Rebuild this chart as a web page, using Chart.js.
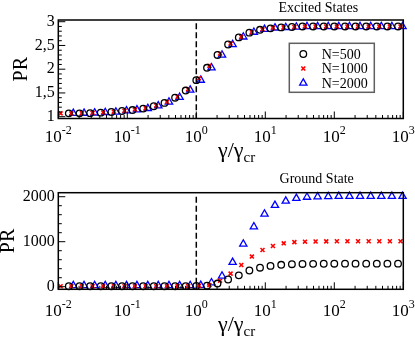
<!DOCTYPE html>
<html>
<head>
<meta charset="utf-8">
<script src="https://cdn.jsdelivr.net/npm/chart.js@4.4.1/dist/chart.umd.min.js"></script>
<style>
    html, body { margin: 0; padding: 0; background: #fff; }
    #wrap { position: relative; width: 415px; height: 343px; }
    #wrap canvas { position: absolute; left: 0; }
</style>
</head>
<body>
<div id="wrap">
    <canvas id="excitedChart" width="415" height="170" style="top:0"></canvas>
    <canvas id="groundChart" width="415" height="173" style="top:170px"></canvas>
</div>
<script>
// eje x (gamma / gamma_cr), escala log
const xDecades = [0.01, 0.1, 1, 10, 100, 1000];
const xDecadeExp = ['-2', '-1', '0', '1', '2', '3'];
const yTicksExcited = [1, 1.5, 2, 2.5, 3];
const yTicksGround = [0, 1000, 2000];
const seriesLabels = ['N=500', 'N=1000', 'N=2000'];

// posiciones en x de cada serie
const gammaN500 = [0.0142, 0.0203, 0.0289, 0.0412, 0.0588, 0.0838, 0.119, 0.170, 0.242, 0.346, 0.493, 0.702,
    1.0, 1.43, 2.03, 2.89, 4.13, 5.88, 8.38, 11.9, 17.0, 24.3, 34.6, 49.3, 70.3, 100, 143, 203, 290, 413, 588, 839];
const gammaN1000 = [0.0108, 0.0155, 0.0220, 0.0314, 0.0448, 0.0639, 0.0911, 0.129, 0.185, 0.263, 0.376, 0.536, 0.763,
    1.09, 1.55, 2.21, 3.14, 4.49, 6.39, 9.11, 12.9, 18.5, 26.4, 37.6, 53.6, 76.4, 109, 155, 221, 315, 449, 639, 912];
const gammaN2000 = [0.0165, 0.0236, 0.0336, 0.0479, 0.0683, 0.0974, 0.138, 0.198, 0.281, 0.402, 0.573, 0.816,
    1.16, 1.66, 2.36, 3.36, 4.80, 6.83, 9.74, 13.8, 19.8, 28.2, 40.2, 57.3, 81.7, 116, 166, 236, 337, 480, 683, 975];

// Excited States
const excitedN500 = [1.07, 1.07, 1.075, 1.085, 1.10, 1.12, 1.14, 1.17, 1.22, 1.29, 1.40, 1.55,
    1.77, 2.03, 2.30, 2.52, 2.67, 2.77, 2.83, 2.86, 2.88, 2.89, 2.90, 2.90, 2.90, 2.90, 2.90, 2.90, 2.90, 2.90, 2.90, 2.90];
const excitedN1000 = [1.07, 1.07, 1.075, 1.08, 1.09, 1.105, 1.125, 1.15, 1.18, 1.235, 1.31, 1.42, 1.58,
    1.81, 2.07, 2.33, 2.54, 2.68, 2.78, 2.84, 2.87, 2.88, 2.89, 2.90, 2.90, 2.90, 2.90, 2.90, 2.90, 2.90, 2.90, 2.90, 2.90];
const excitedN2000 = [1.07, 1.075, 1.08, 1.09, 1.10, 1.125, 1.145, 1.175, 1.23, 1.31, 1.41, 1.56,
    1.77, 2.03, 2.30, 2.52, 2.68, 2.78, 2.84, 2.87, 2.88, 2.89, 2.90, 2.90, 2.90, 2.90, 2.90, 2.90, 2.90, 2.90, 2.90, 2.90];

// Ground State
const groundN500 = [10, 10, 10, 10, 10, 10, 10, 10, 10, 10, 11, 12,
    15, 22, 70, 160, 252, 360, 422, 462, 487, 500, 505, 508, 510, 511, 512, 512, 512, 512, 512, 512];
const groundN1000 = [10, 10, 10, 10, 10, 10, 10, 10, 10, 10, 11, 12, 13,
    18, 35, 133, 290, 482, 670, 815, 904, 964, 990, 1000, 1005, 1008, 1010, 1010, 1010, 1010, 1010, 1010, 1010];
const groundN2000 = [25, 25, 25, 25, 25, 25, 25, 25, 25, 25, 26, 27,
    32, 89, 238, 542, 949, 1333, 1616, 1809, 1904, 1964, 1990, 2000, 2005, 2008, 2010, 2010, 2010, 2010, 2010, 2010];

// linea discontinua en gamma = gamma_cr
const criticalGamma = [1, 1];
const criticalExcited = [2.97, 0.96];
const criticalGround = [2000, -58];

const SERIF = '"Liberation Serif", "Times New Roman", serif';
const markerStyles = [
    { pointStyle: 'circle', radius: 3.3, color: '#000000', width: 1.3 },
    { pointStyle: 'crossRot', radius: 2.8, color: '#ff0000', width: 1.6 },
    { pointStyle: 'triangle', radius: 4.2, color: '#0000ff', width: 1.3 }
];
const gammaSets = [gammaN500, gammaN1000, gammaN2000];

function toPoints(xs, ys) {
    return xs.map((x, i) => ({ x: x, y: ys[i] }));
}

function drawMarker(ctx, s, x, y) {
    ctx.save();
    ctx.strokeStyle = s.color;
    ctx.lineWidth = s.width;
    ctx.beginPath();
    const r = s.radius;
    if (s.pointStyle === 'circle') {
        ctx.arc(x, y, r, 0, Math.PI * 2);
    } else if (s.pointStyle === 'crossRot') {
        const o = r * Math.SQRT1_2;
        ctx.moveTo(x - o, y - o); ctx.lineTo(x + o, y + o);
        ctx.moveTo(x + o, y - o); ctx.lineTo(x - o, y + o);
    } else {
        ctx.moveTo(x, y - r);
        ctx.lineTo(x + r * 0.866, y + r / 2);
        ctx.lineTo(x - r * 0.866, y + r / 2);
        ctx.closePath();
    }
    ctx.stroke();
    ctx.restore();
}

function decorPlugin(panel) {
    return {
        id: 'decor',
        afterDraw(chart) {
            const { ctx, chartArea: a } = chart;
            const xs = chart.scales.x, ys = chart.scales.y;
            ctx.save();

            // marco
            ctx.strokeStyle = '#000';
            ctx.lineWidth = 1.5;
            ctx.strokeRect(a.left, a.top, a.right - a.left, a.bottom - a.top);

            // ticks hacia dentro
            ctx.lineWidth = 1;
            ctx.beginPath();
            xDecades.forEach(v => {
                const px = xs.getPixelForValue(v);
                ctx.moveTo(px, a.bottom); ctx.lineTo(px, a.bottom - 7);
            });
            xDecades.slice(0, -1).forEach(d => {
                for (let m = 2; m <= 9; m++) {
                    const px = xs.getPixelForValue(d * m);
                    ctx.moveTo(px, a.bottom); ctx.lineTo(px, a.bottom - 3.5);
                }
            });
            panel.yTicks.forEach(v => {
                const py = ys.getPixelForValue(v);
                ctx.moveTo(a.left, py); ctx.lineTo(a.left + 7, py);
            });
            panel.yMinor.forEach(v => {
                const py = ys.getPixelForValue(v);
                ctx.moveTo(a.left, py); ctx.lineTo(a.left + 3.5, py);
            });
            ctx.stroke();

            // etiquetas 10^n
            ctx.fillStyle = '#000';
            ctx.textBaseline = 'alphabetic';
            ctx.textAlign = 'left';
            xDecades.forEach((v, i) => {
                const px = xs.getPixelForValue(v);
                ctx.font = '17px ' + SERIF;
                const w1 = ctx.measureText('10').width;
                ctx.font = '12px ' + SERIF;
                const w2 = ctx.measureText(xDecadeExp[i]).width;
                const x0 = px - (w1 + w2) / 2;
                ctx.font = '17px ' + SERIF;
                ctx.fillText('10', x0, panel.xLabelBase);
                ctx.font = '12px ' + SERIF;
                ctx.fillText(xDecadeExp[i], x0 + w1, panel.xLabelBase - 8);
            });

            // titulo eje x
            const cx = (a.left + a.right) / 2;
            ctx.font = '22px ' + SERIF;
            const wg = ctx.measureText('γ/γ').width;
            ctx.fillText('γ/γ', cx - wg / 2, panel.xTitleBase);
            ctx.font = '15px ' + SERIF;
            ctx.fillText('cr', cx + wg / 2, panel.xTitleBase + 5);

            // titulo eje y
            ctx.save();
            ctx.translate(panel.yTitleX, (a.top + a.bottom) / 2);
            ctx.rotate(-Math.PI / 2);
            ctx.textAlign = 'center';
            ctx.textBaseline = 'middle';
            ctx.font = '20px ' + SERIF;
            ctx.fillText('PR', 0, 0);
            ctx.restore();

            // titulo del panel
            ctx.textAlign = 'center';
            ctx.font = '14px ' + SERIF;
            ctx.fillText(panel.title, panel.titleX, panel.titleBase);

            // leyenda
            if (panel.legend) {
                const L = panel.legend;
                ctx.fillStyle = '#fff';
                ctx.fillRect(L.x, L.y, L.w, L.h);
                ctx.strokeStyle = '#606060';
                ctx.lineWidth = 1.5;
                ctx.strokeRect(L.x, L.y, L.w, L.h);
                ctx.fillStyle = '#000';
                ctx.textAlign = 'left';
                ctx.font = '14px ' + SERIF;
                seriesLabels.forEach((lab, i) => {
                    const ry = L.rows[i];
                    drawMarker(ctx, markerStyles[i], L.markX, ry);
                    ctx.fillText(lab, L.textX, ry + 4.8);
                });
            }
            ctx.restore();
        }
    };
}

function makeChart(id, panel) {
    const datasets = panel.series.map((ys, i) => {
        const s = markerStyles[i];
        return {
            label: seriesLabels[i],
            data: toPoints(gammaSets[i], ys),
            showLine: false,
            pointStyle: s.pointStyle,
            pointRadius: s.radius,
            pointBorderWidth: s.width,
            borderColor: s.color,
            pointBorderColor: s.color,
            backgroundColor: 'rgba(0,0,0,0)',
            pointBackgroundColor: 'rgba(0,0,0,0)',
            clip: false,
            order: i + 1
        };
    });
    datasets.push({
        label: 'critical',
        data: toPoints(criticalGamma, panel.critical),
        showLine: true,
        borderColor: '#000',
        borderWidth: 1.5,
        borderDash: [6, 3],
        pointRadius: 0,
        order: 10
    });

    return new Chart(document.getElementById(id), {
        type: 'scatter',
        data: { datasets },
        options: {
            responsive: false,
            animation: false,
            devicePixelRatio: 1,
            events: [],
            layout: { padding: { top: panel.areaTop, right: 415 - panel.areaRight, left: 0, bottom: 0 } },
            plugins: { legend: { display: false }, tooltip: { enabled: false } },
            scales: {
                x: {
                    type: 'logarithmic',
                    min: 0.01,
                    max: 1000,
                    ticks: { display: false },
                    grid: { display: false, drawTicks: false },
                    border: { display: false },
                    afterFit: s => { s.height = panel.height - panel.areaBottom; }
                },
                y: {
                    type: 'linear',
                    min: panel.yMin,
                    max: panel.yMax,
                    afterBuildTicks: s => { s.ticks = panel.yTicks.map(v => ({ value: v })); },
                    ticks: {
                        color: '#000',
                        padding: 3.5,
                        font: { family: SERIF, size: 16 },
                        callback: v => String(v).replace('.', ',')
                    },
                    grid: { display: false, drawTicks: false },
                    border: { display: false },
                    afterFit: s => { s.width = panel.areaLeft; }
                }
            }
        },
        plugins: [decorPlugin(panel)]
    });
}

const minorExcited = [];
for (let i = 10; i <= 30; i++) if (i % 5) minorExcited.push(i / 10);
const minorGround = [];
for (let i = 1; i < 10; i++) if (i % 5) minorGround.push(i * 200);

makeChart('excitedChart', {
    height: 170, areaLeft: 58.3, areaRight: 403.3, areaTop: 20, areaBottom: 118.5,
    yMin: 0.962, yMax: 3.036, yTicks: yTicksExcited, yMinor: minorExcited,
    series: [excitedN500, excitedN1000, excitedN2000],
    critical: criticalExcited,
    xLabelBase: 141.5, xTitleBase: 157, yTitleX: 21.7,
    title: 'Excited States', titleX: 318.3, titleBase: 11.7,
    legend: { x: 289.3, y: 43.3, w: 85, h: 49, markX: 303.3, textX: 321.7, rows: [54, 68.5, 83] }
});

makeChart('groundChart', {
    height: 173, areaLeft: 58.3, areaRight: 403.3, areaTop: 22.7, areaBottom: 119.3,
    yMin: -58, yMax: 2089, yTicks: yTicksGround, yMinor: minorGround,
    series: [groundN500, groundN1000, groundN2000],
    critical: criticalGround,
    xLabelBase: 145.5, xTitleBase: 161, yTitleX: 8.3,
    title: 'Ground State', titleX: 316.7, titleBase: 13.3,
    legend: null
});
</script>
</body>
</html>
